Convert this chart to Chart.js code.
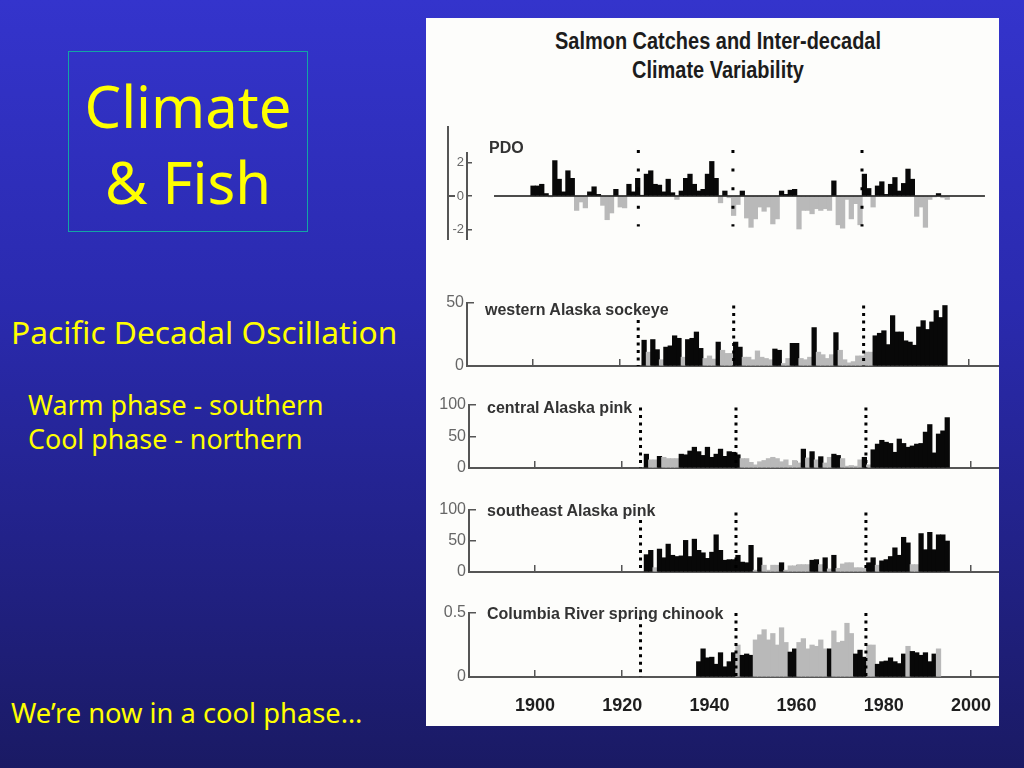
<!DOCTYPE html>
<html>
<head>
<meta charset="utf-8">
<title>Climate & Fish</title>
<script src="https://cdn.jsdelivr.net/npm/chart.js@4"></script>
<style>
html, body { margin: 0; padding: 0; }
body {
    position: relative;
    width: 1024px;
    height: 768px;
    overflow: hidden;
    background: linear-gradient(to bottom, #3434cc 0%, #2a2aae 40%, #1a1a64 100%);
    font-family: "Noto Sans", sans-serif;
    color: #ffff00;
}
.slide-text { position: absolute; white-space: nowrap; line-height: 1; }
#titleBox {
    position: absolute;
    left: 68px; top: 51px;
    width: 238px; height: 179px;
    border: 1px solid #13a5a5;
    text-align: center;
    font-size: 58px;
    line-height: 76px;
}
#titleBox div { margin-top: 16px; }
#figure {
    position: absolute;
    left: 426px; top: 18px;
    width: 573px; height: 708px;
    background: #fdfdfb;
}
canvas { position: absolute; }
.fig-title {
    position: absolute;
    font-family: "Liberation Sans", sans-serif;
    font-weight: bold;
    color: #1c1c1c;
    font-size: 21px;
    line-height: 1;
    white-space: nowrap;
    transform: translateX(-50%) scale(0.95, 1.12);
}
.fig-label {
    position: absolute;
    font-family: "Liberation Sans", sans-serif;
    font-weight: bold;
    color: #333;
    font-size: 16px;
    line-height: 1;
    white-space: nowrap;
    z-index: 5;
}
.pdo-rule { position: absolute; background: #555; }
</style>
</head>
<body>

<div id="titleBox"><div>Climate<br>&amp; Fish</div></div>
<div class="slide-text" style="left:11px;top:316px;font-size:31.7px">Pacific Decadal Oscillation</div>
<div class="slide-text" style="left:28px;top:392px;font-size:26.8px">Warm phase - southern</div>
<div class="slide-text" style="left:28px;top:426px;font-size:26.8px">Cool phase - northern</div>
<div class="slide-text" style="left:11px;top:699px;font-size:27.3px">We’re now in a cool phase…</div>

<div id="figure"></div>
<div class="fig-title" style="left:718px;top:30px">Salmon Catches and Inter-decadal</div>
<div class="fig-title" style="left:718px;top:59px">Climate Variability</div>
<div class="fig-label" style="left:489px;top:140px">PDO</div>
<div class="fig-label" style="left:485px;top:302px">western Alaska sockeye</div>
<div class="fig-label" style="left:487px;top:400px">central Alaska pink</div>
<div class="fig-label" style="left:487px;top:503px">southeast Alaska pink</div>
<div class="fig-label" style="left:487px;top:606px">Columbia River spring chinook</div>
<div class="pdo-rule" style="left:447px;top:126px;width:2px;height:114px"></div>
<div class="pdo-rule" style="left:447px;top:195px;width:8px;height:2px"></div>

<canvas id="pdoChart"></canvas>
<canvas id="westernChart"></canvas>
<canvas id="centralChart"></canvas>
<canvas id="southeastChart"></canvas>
<canvas id="columbiaChart"></canvas>

<script>
/*==================================================
DATA
==================================================*/

const decadeTicks = [1900, 1920, 1940, 1960, 1980, 2000];

const pdoStartYear = 1899;
const pdoValues = [
    0.6, 0.6, 0.7, 0.15, -0.05, 2.1, 1.0, 0.25, 1.5, 1.05, -0.85, -0.35, -0.7, 0.25, 0.55, 0.1,
    -0.55, -1.4, -1.0, 0.4, -0.65, -0.7, 0.7, 0.25, 1.05, 0.05, 1.3, 1.5, 0.7, 0.65, 0.25, 1.0,
    0.2, -0.2, 0.3, 1.05, 1.3, 0.7, 0.3, 0.4, 1.3, 2.05, 1.05, -0.4, 0.3, -0.1, -1.15, -0.5,
    0.3, -1.3, -1.85, -1.35, -0.65, -0.9, -0.65, -1.65, -1.35, 0.3, 0.1, 0.35, 0.4, -1.95,
    -0.85, -0.85, -1.05, -0.75, -0.85, -0.75, -0.85, 0.9, -1.7, -1.9, -0.2, -1.35, -0.45, -1.7,
    1.3, 0.45, -0.65, 0.6, 0.85, 0.1, 0.7, 1.1, 0.3, 0.75, 1.6, 1.0, -1.2, -0.65, -1.85,
    -0.2, -0.05, 0.15, -0.1, -0.2
];
const pdoTicks = [-2, 0, 2];
const pdoShiftYears = [1923.7, 1945.4, 1975];
const pdoZeroLineYears = [1890.6, 2003.2];

const fishShiftYears = [1924.2, 1946.1, 1975.9];

const westernStartYear = 1925;
const westernValues = [
    20.5, 11, 21, 13, 5, 15, 16, 24, 22, 7, 21, 22, 27, 14, 6, 8, 5.5, 19, 12.5, 10, 10, 19, 15, 7, 7,
    5, 12, 7, 6, 5, 13.5, 12.5, 2, 6, 18, 18, 6, 5, 7, 30.5, 11, 9, 6, 9, 26.5, 12.5, 5, 2.5, 3.5, 8,
    8, 11, 11, 24, 26, 28, 17, 40, 27, 27, 20, 19, 16.5, 31, 36, 29, 35, 44, 38.5, 48
];
const westernDarkYears = [
    1925, 1927, 1928, 1930, 1931, 1932, 1933, 1935, 1936, 1937, 1938, 1942, 1946, 1947, 1955, 1956,
    1959, 1960, 1964, 1969, 1978, 1979, 1980, 1981, 1982, 1983, 1984, 1985, 1986, 1987, 1988, 1989,
    1990, 1991, 1992, 1993, 1994
];
const westernTicks = [0, 50];
const westernDotTops = [36.5, 48, 48];

const centralStartYear = 1925;
const centralValues = [
    22, 13, 13, 18.5, 17, 15, 15, 15, 22, 21, 27, 33, 26, 20, 33, 17, 22, 30, 18.5, 26, 25, 21, 15, 15, 9,
    5, 10, 12, 15, 17, 15, 10, 13, 4, 12, 8, 30, 16, 26, 13, 18, 8, 17, 22, 20, 15, 3, 4, 3, 13,
    17, 5, 29, 38, 44, 41, 39, 25, 46, 39, 33, 35, 38, 39, 57, 69, 24, 54, 59, 80
];
const centralDarkYears = [
    1925, 1928, 1933, 1934, 1935, 1936, 1937, 1938, 1939, 1940, 1941, 1942, 1943, 1944, 1945, 1946,
    1961, 1963, 1965, 1968, 1969, 1975, 1977, 1978, 1979, 1980, 1981, 1982, 1983, 1984, 1985, 1986,
    1987, 1988, 1989, 1990, 1991, 1992, 1993, 1994
];
const centralTicks = [0, 50, 100];
const centralDotTops = [96, 96, 96];

const southeastStartYear = 1925;
const southeastValues = [
    28, 35, 7, 37, 23, 45, 27, 25, 26, 51, 25, 53, 35, 31, 22, 32, 60, 35, 19, 20, 20, 27, 16, 15, 43,
    3, 23, 11, 3, 11, 11, 15, 3, 10, 10, 12, 12, 12, 19, 20, 12, 23, 5, 27, 6, 13, 15, 15, 7, 7,
    6, 15, 23, 11, 18, 20, 25, 39, 27, 56, 47, 12, 12, 62, 36, 64, 36, 60, 60, 50
];
const southeastDarkYears = [
    1925, 1926, 1928, 1929, 1930, 1931, 1932, 1933, 1934, 1935, 1936, 1937, 1938, 1939, 1940, 1941,
    1942, 1943, 1944, 1945, 1946, 1947, 1948, 1949, 1951, 1956, 1963, 1964, 1966, 1968, 1976, 1977,
    1979, 1980, 1981, 1982, 1983, 1984, 1985, 1988, 1989, 1990, 1991, 1992, 1993, 1994
];
const southeastTicks = [0, 50, 100];
const southeastDotTops = [84, 96, 96];

const columbiaStartYear = 1937;
const columbiaValues = [
    0.12, 0.22, 0.15, 0.155, 0.1, 0.19, 0.08, 0.12, 0.19, 0.25, 0.17, 0.18, 0.17, 0.29, 0.33, 0.37,
    0.29, 0.34, 0.25, 0.385, 0.27, 0.195, 0.22, 0.27, 0.3, 0.22, 0.25, 0.24, 0.29, 0.22, 0.22, 0.36,
    0.27, 0.28, 0.42, 0.34, 0.18, 0.21, 0.155, 0.25, 0.25, 0.1, 0.12, 0.125, 0.15, 0.12, 0.105, 0.18,
    0.24, 0.2, 0.19, 0.17, 0.19, 0.12, 0.18, 0.22
];
const columbiaDarkYears = [
    1937, 1938, 1939, 1940, 1941, 1942, 1943, 1944, 1945, 1947, 1948, 1949, 1958, 1959, 1967, 1973,
    1974, 1975, 1978, 1979, 1980, 1981, 1982, 1983, 1984, 1986, 1987, 1988, 1989, 1990, 1991
];
const columbiaTicks = [0, 0.5];
const columbiaDotTops = [0.47, 0.5, 0.5];

/*==================================================
COMMON PANEL CHART
==================================================*/

const PX_PER_YEAR = 4.36;
const BAR_SHIFT = 0.55;
const FIGURE_RIGHT = 999;
const DARK = "#080808";
const GREY = "#b9b9b9";

// the layout adds room for half a tick label, which would move the axes
function clearScalePadding(scale) {

    scale.paddingTop = 0;
    scale.paddingBottom = 0;
    scale.paddingLeft = 0;
    scale.paddingRight = 0;

}

function createPanelChart(id, panel) {

    const canvas = document.getElementById(id);

    const headroom = 12;
    const areaHeight = panel.bottom - panel.top;
    const areaLeft = panel.left + 43;

    canvas.width = FIGURE_RIGHT - panel.left;
    canvas.height = headroom + areaHeight + panel.below;
    canvas.style.left = panel.left + "px";
    canvas.style.top = (panel.top - headroom) + "px";

    const xMin = 1900 - (panel.x1900 - areaLeft) / PX_PER_YEAR;
    const xMax = xMin + (FIGURE_RIGHT - areaLeft) / PX_PER_YEAR;

    const bars = panel.values.map((value, i) => ({
        x: panel.startYear + i + BAR_SHIFT,
        y: value
    }));

    const barColours = panel.values.map((value, i) =>
        panel.isDark(panel.startYear + i, value) ? DARK : GREY
    );

    const datasets = [{
        type: "bar",
        data: bars,
        backgroundColor: barColours,
        barThickness: 4.6,
        grouped: false,
        order: 3
    }];

    panel.shiftYears.forEach((year, i) => {

        datasets.push({
            type: "line",
            data: [
                { x: year, y: panel.dotTops[i] },
                { x: year, y: panel.dotBottom }
            ],
            borderColor: "#000",
            borderWidth: panel.dotWidth,
            borderDash: panel.dotDash,
            pointRadius: 0,
            clip: false,
            order: 1
        });

    });

    if (panel.zeroLine) {

        datasets.push({
            type: "line",
            data: panel.zeroLine.map(year => ({ x: year, y: 0 })),
            borderColor: "#111",
            borderWidth: 1.5,
            pointRadius: 0,
            order: 2
        });

    }

    return new Chart(canvas, {

        data: { datasets: datasets },

        options: {

            responsive: false,
            animation: false,

            layout: {
                padding: { top: headroom, left: 0, right: 0, bottom: 0 }
            },

            plugins: {
                legend: { display: false },
                title: { display: false },
                tooltip: { enabled: false }
            },

            scales: {

                x: {
                    type: "linear",
                    offset: false,
                    display: panel.showXAxis,
                    min: xMin,
                    max: xMax,
                    afterBuildTicks: scale => {
                        scale.ticks = decadeTicks.map(value => ({ value: value }));
                    },
                    afterFit: scale => {
                        scale.height = panel.below;
                        clearScalePadding(scale);
                    },
                    border: { color: "#555", width: 2 },
                    grid: {
                        offset: false,
                        drawOnChartArea: false,
                        color: "#555",
                        lineWidth: 1.5,
                        tickLength: -7
                    },
                    ticks: {
                        display: panel.showYears,
                        autoSkip: false,
                        maxRotation: 0,
                        padding: 25,
                        color: "#1e1e1e",
                        font: { family: "Liberation Sans", size: 18, weight: "bold" },
                        callback: value => String(value)
                    }
                },

                y: {
                    min: panel.yMin,
                    max: panel.yMax,
                    afterBuildTicks: scale => {
                        scale.ticks = panel.yTicks.map(value => ({ value: value }));
                    },
                    afterFit: scale => {
                        scale.width = 43;
                        clearScalePadding(scale);
                    },
                    border: { color: "#555", width: 2 },
                    grid: {
                        drawOnChartArea: false,
                        color: "#555",
                        lineWidth: 1.5,
                        tickLength: panel.yTickLength
                    },
                    ticks: {
                        autoSkip: false,
                        padding: 3 - panel.yTickLength,
                        color: "#666",
                        font: { family: "Liberation Sans", size: panel.yFontSize },
                        callback: value => String(value)
                    }
                }

            }

        }

    });

}

/*==================================================
PANELS
==================================================*/

function isPdoWarm(year, value) {

    return value > 0;

}

function darkYearTest(darkYears) {

    return year => darkYears.includes(year);

}

function createCharts() {

    createPanelChart("pdoChart", {
        left: 424, top: 153, bottom: 240, below: 0, x1900: 535,
        showXAxis: false, showYears: false,
        startYear: pdoStartYear, values: pdoValues, isDark: isPdoWarm,
        yMin: -2.6, yMax: 2.55, yTicks: pdoTicks, yTickLength: -5, yFontSize: 13,
        shiftYears: pdoShiftYears, dotTops: [2.73, 2.73, 2.73], dotBottom: -1.8,
        dotWidth: 3, dotDash: [3, 15.6],
        zeroLine: pdoZeroLineYears
    });

    createPanelChart("westernChart", {
        left: 424, top: 303, bottom: 366, below: 10, x1900: 532.7,
        showXAxis: true, showYears: false,
        startYear: westernStartYear, values: westernValues, isDark: darkYearTest(westernDarkYears),
        yMin: 0, yMax: 50, yTicks: westernTicks, yTickLength: -7, yFontSize: 16,
        shiftYears: fishShiftYears, dotTops: westernDotTops, dotBottom: 0,
        dotWidth: 3, dotDash: [3, 4.5]
    });

    createPanelChart("centralChart", {
        left: 426, top: 405, bottom: 468, below: 10, x1900: 535,
        showXAxis: true, showYears: false,
        startYear: centralStartYear, values: centralValues, isDark: darkYearTest(centralDarkYears),
        yMin: 0, yMax: 100, yTicks: centralTicks, yTickLength: -7, yFontSize: 16,
        shiftYears: fishShiftYears, dotTops: centralDotTops, dotBottom: 0,
        dotWidth: 3, dotDash: [3, 4.5]
    });

    createPanelChart("southeastChart", {
        left: 426, top: 510, bottom: 572, below: 10, x1900: 535,
        showXAxis: true, showYears: false,
        startYear: southeastStartYear, values: southeastValues, isDark: darkYearTest(southeastDarkYears),
        yMin: 0, yMax: 100, yTicks: southeastTicks, yTickLength: -7, yFontSize: 16,
        shiftYears: fishShiftYears, dotTops: southeastDotTops, dotBottom: 0,
        dotWidth: 3, dotDash: [3, 4.5]
    });

    createPanelChart("columbiaChart", {
        left: 426, top: 613, bottom: 677, below: 46, x1900: 535,
        showXAxis: true, showYears: true,
        startYear: columbiaStartYear, values: columbiaValues, isDark: darkYearTest(columbiaDarkYears),
        yMin: 0, yMax: 0.5, yTicks: columbiaTicks, yTickLength: -7, yFontSize: 16,
        shiftYears: fishShiftYears, dotTops: columbiaDotTops, dotBottom: 0,
        dotWidth: 3, dotDash: [3, 4.5]
    });

}

createCharts();
</script>
</body>
</html>
